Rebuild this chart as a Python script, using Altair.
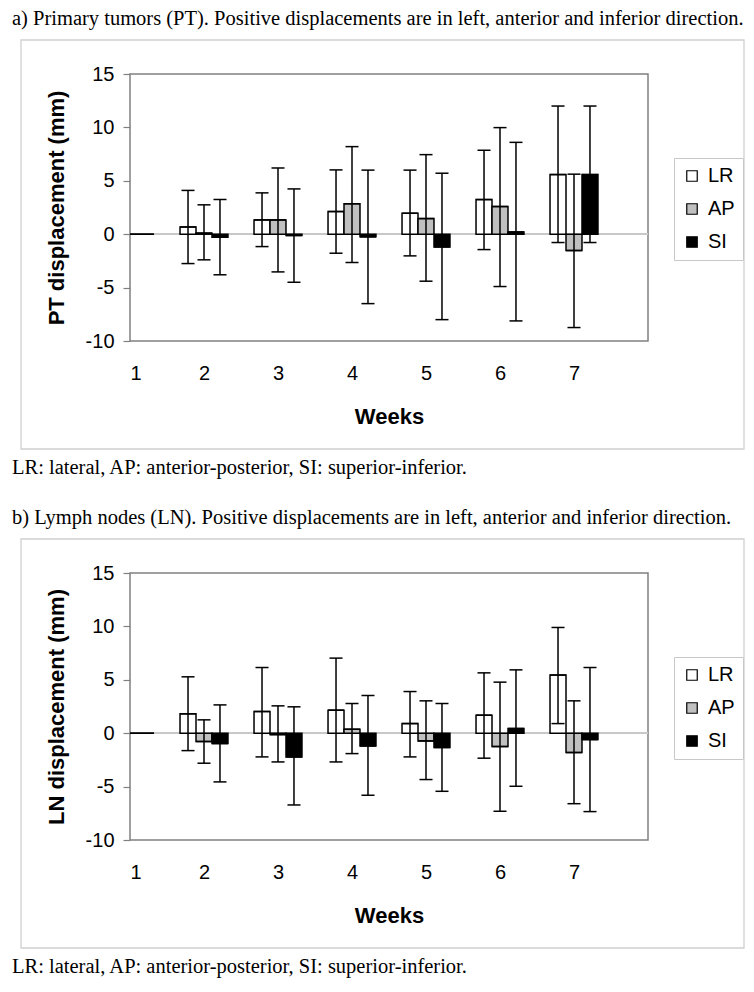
import altair as alt
import pandas as pd

# ---------------- data ----------------
weeks = [1, 2, 3, 4, 5, 6, 7]
series = ["LR", "AP", "SI"]
series_colors = ["white", "#c0c0c0", "black"]

# a) Primary tumors (PT)
pt_lr_mean = [0, 0.68, 1.34, 2.12, 1.96, 3.24, 5.58]
pt_lr_low = [None, -2.75, -1.16, -1.78, -2.03, -1.44, -0.78]
pt_lr_high = [None, 4.10, 3.87, 6.02, 6.00, 7.86, 12.0]
pt_ap_mean = [0, 0.10, 1.34, 2.85, 1.46, 2.59, -1.53]
pt_ap_low = [None, -2.40, -3.53, -2.65, -4.40, -4.90, -8.74]
pt_ap_high = [None, 2.75, 6.20, 8.20, 7.45, 9.98, 5.62]
pt_si_mean = [0, -0.28, -0.12, -0.25, -1.19, 0.21, 5.58]
pt_si_low = [None, -3.80, -4.50, -6.50, -8.00, -8.12, -0.78]
pt_si_high = [None, 3.25, 4.24, 6.00, 5.71, 8.60, 12.0]

# b) Lymph nodes (LN)
ln_lr_mean = [0, 1.81, 2.03, 2.16, 0.90, 1.69, 5.44]
ln_lr_low = [None, -1.63, -2.22, -2.69, -2.22, -2.34, 0.90]
ln_lr_high = [None, 5.28, 6.15, 7.03, 3.90, 5.65, 9.90]
ln_ap_mean = [0, -0.78, -0.13, 0.37, -0.72, -1.25, -1.81]
ln_ap_low = [None, -2.81, -2.69, -1.91, -4.34, -7.31, -6.60]
ln_ap_high = [None, 1.25, 2.56, 2.78, 3.03, 4.78, 3.03]
ln_si_mean = [0, -0.97, -2.22, -1.19, -1.34, 0.44, -0.60]
ln_si_low = [None, -4.56, -6.72, -5.81, -5.44, -4.97, -7.34]
ln_si_high = [None, 2.65, 2.47, 3.53, 2.78, 5.93, 6.15]

y_ticks = [-10, -5, 0, 5, 10, 15]

caption_a = "a) Primary tumors (PT). Positive displacements are in left, anterior and inferior direction."
caption_b = "b) Lymph nodes (LN). Positive displacements are in left, anterior and inferior direction."
footnote = "LR: lateral, AP: anterior-posterior, SI: superior-inferior."


def long_table(means, lows, highs):
    rows = []
    for k, s in enumerate(series):
        for i, w in enumerate(weeks):
            rows.append({"week": w, "series": s, "idx": k,
                         "mean": means[k][i], "low": lows[k][i], "high": highs[k][i]})
    return pd.DataFrame(rows)


pt_df = long_table([pt_lr_mean, pt_ap_mean, pt_si_mean],
                   [pt_lr_low, pt_ap_low, pt_si_low],
                   [pt_lr_high, pt_ap_high, pt_si_high])
ln_df = long_table([ln_lr_mean, ln_ap_mean, ln_si_mean],
                   [ln_lr_low, ln_ap_low, ln_si_low],
                   [ln_lr_high, ln_ap_high, ln_si_high])

SANS = "Liberation Sans"
SERIF = "Liberation Serif"
BAR_W = 0.216
CAP_HALF = 0.088
BORDER = "#808080"


def panel(df, ytitle, caption):
    xscale = alt.Scale(domain=[1, 8], nice=False, zero=False)
    yscale = alt.Scale(domain=[-10, 15], nice=False, zero=False)
    base = alt.Chart(df).transform_calculate(
        center=f"datum.week + (datum.idx - 1) * {BAR_W}",
        zero="0",
    ).transform_calculate(
        x0=f"datum.center - {BAR_W / 2}",
        x1=f"datum.center + {BAR_W / 2}",
        cl=f"datum.center - {CAP_HALF}",
        cr=f"datum.center + {CAP_HALF}",
    )

    xaxis = alt.Axis(values=weeks, title="Weeks", format="d",
                     labelFont=SANS, labelFontSize=20, labelColor="black",
                     titleFont=SANS, titleFontSize=22, titleFontWeight="bold", titleColor="black",
                     ticks=False, tickSize=0, domain=False, grid=False,
                     labelPadding=22, titlePadding=23)
    yaxis = alt.Axis(values=y_ticks, title=ytitle, labelExpr="datum.value + ''",
                     labelFont=SANS, labelFontSize=20, labelColor="black",
                     titleFont=SANS, titleFontSize=22, titleFontWeight="bold", titleColor="black",
                     tickSize=7, tickColor=BORDER, tickWidth=1.2, domain=False, grid=False,
                     labelPadding=9, titlePadding=17)

    one = alt.Data(values=[{"a": 1}])
    frame = alt.Chart(one).mark_rect(fillOpacity=0, stroke="#d0d0d0", strokeWidth=1.3).encode(
        x=alt.value(-109), x2=alt.value(614), y=alt.value(-34), y2=alt.value(375))
    cap = alt.Chart(one).mark_text(align="left", baseline="middle", font=SERIF,
                                   fontSize=20.5, color="black").encode(
        x=alt.value(-118), y=alt.value(-55), text=alt.value(caption))
    foot = alt.Chart(one).mark_text(align="left", baseline="middle", font=SERIF,
                                    fontSize=20.5, color="black").encode(
        x=alt.value(-118), y=alt.value(394), text=alt.value(footnote))

    zero_line = base.mark_rule(color="#c8c8c8", strokeWidth=1).encode(
        y=alt.Y("zero:Q", scale=yscale, axis=yaxis))

    bars = base.mark_bar(stroke="black", strokeWidth=1.5, clip=True).encode(
        x=alt.X("x0:Q", scale=xscale, axis=xaxis),
        x2="x1:Q",
        y=alt.Y("mean:Q", scale=yscale, axis=yaxis),
        y2="zero:Q",
        color=alt.Color("series:N", scale=alt.Scale(domain=series, range=series_colors),
                        legend=alt.Legend(title=None, orient="none", legendX=544, legendY=84,
                                          direction="vertical", symbolType="square",
                                          symbolSize=110, symbolStrokeColor="black",
                                          symbolStrokeWidth=1.2, labelFont=SANS,
                                          labelFontSize=20, labelColor="black",
                                          strokeColor="#c8c8c8", fillColor="white",
                                          padding=8, rowPadding=13, labelOffset=6)),
    )
    tops = base.mark_rule(color="black", strokeWidth=1.5, clip=True).encode(
        x=alt.X("x0:Q", scale=xscale), x2="x1:Q", y=alt.Y("mean:Q", scale=yscale))

    err = base.transform_filter("datum.low != null")
    stem = err.mark_rule(color="black", strokeWidth=1.5).encode(
        x=alt.X("center:Q", scale=xscale), y=alt.Y("low:Q", scale=yscale), y2="high:Q")
    cap_hi = err.mark_rule(color="black", strokeWidth=1.5).encode(
        x=alt.X("cl:Q", scale=xscale), x2="cr:Q", y=alt.Y("high:Q", scale=yscale))
    cap_lo = err.mark_rule(color="black", strokeWidth=1.5).encode(
        x=alt.X("cl:Q", scale=xscale), x2="cr:Q", y=alt.Y("low:Q", scale=yscale))

    return alt.layer(frame, cap, foot, zero_line, bars, tops, stem, cap_hi, cap_lo).properties(
        width=518, height=267,
        view=alt.ViewBackground(stroke=BORDER, strokeWidth=1.5))


chart = alt.vconcat(
    panel(pt_df, "PT displacement (mm)", caption_a),
    panel(ln_df, "LN displacement (mm)", caption_b),
    spacing=27,
).resolve_legend(color="independent").properties(
    padding={"left": 3, "top": 0, "right": 0, "bottom": 0}
).configure_view(stroke=BORDER, strokeWidth=1.5).configure(background="white")

chart.save("out.html", embed_options={"renderer": "svg", "actions": False})
